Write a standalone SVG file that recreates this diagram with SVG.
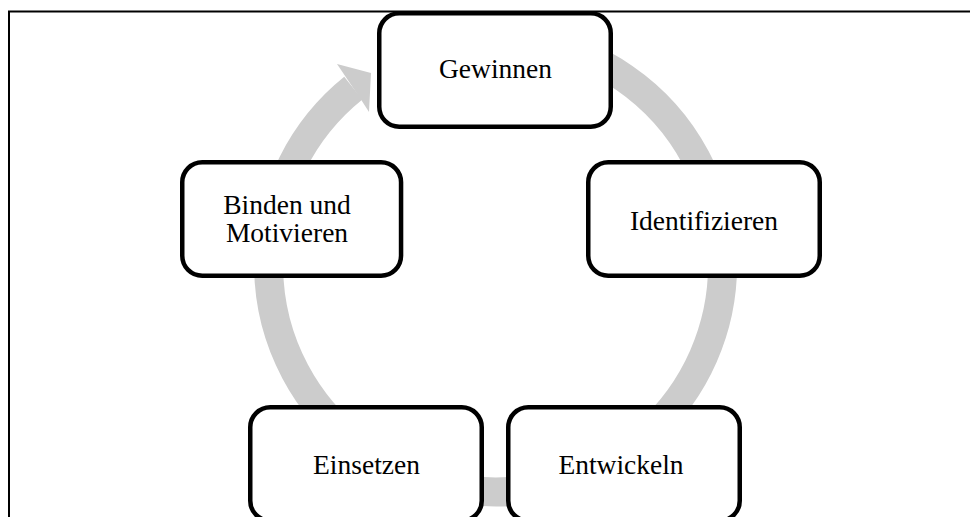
<svg xmlns="http://www.w3.org/2000/svg" width="970" height="517" viewBox="0 0 970 517">
  <style>
    .box { fill: #ffffff; stroke: #000000; stroke-width: 4.5; }
    .label { font-family: "Liberation Serif", "Times New Roman", serif; font-size: 27.5px; fill: #000000; text-anchor: middle; }
    .ring { fill: none; stroke: #cccccc; stroke-width: 29; stroke-linecap: butt; }
    .head { fill: #cccccc; stroke: none; }
    .frame { fill: none; stroke: #000000; stroke-width: 2; }
  </style>

  <rect x="0" y="0" width="970" height="517" fill="#ffffff"/>

  <!-- open frame: left and top rules -->
  <path class="frame" d="M9,517 V11.5 H970"/>

  <!-- continuous cycle ring with arrowhead pointing into the first step -->
  <g id="connectors">
    <path class="ring" d="M534.9,41.4 A227,227 0 1 1 353.3,88.1"/>
    <polygon class="head" points="337,64 371,73 369,112 360,98"/>
  </g>

  <g id="node-gewinnen">
    <rect class="box" x="379.25" y="13.25" width="231.5" height="113.5" rx="20" ry="20"/>
    <text class="label" x="495.5" y="78">Gewinnen</text>
  </g>

  <g id="node-identifizieren">
    <rect class="box" x="588.25" y="162.25" width="231.5" height="113.5" rx="20" ry="20"/>
    <text class="label" x="704" y="229.5">Identifizieren</text>
  </g>

  <g id="node-entwickeln">
    <rect class="box" x="508.25" y="407.25" width="231.5" height="113.5" rx="20" ry="20"/>
    <text class="label" x="621" y="473.5">Entwickeln</text>
  </g>

  <g id="node-einsetzen">
    <rect class="box" x="250.25" y="407.25" width="231.5" height="113.5" rx="20" ry="20"/>
    <text class="label" x="366.5" y="473.5">Einsetzen</text>
  </g>

  <g id="node-binden">
    <rect class="box" x="182.25" y="162.25" width="218.8" height="113.5" rx="20" ry="20"/>
    <text class="label" x="287" y="213.5">Binden und</text>
    <text class="label" x="287" y="241.5">Motivieren</text>
  </g>
</svg>
